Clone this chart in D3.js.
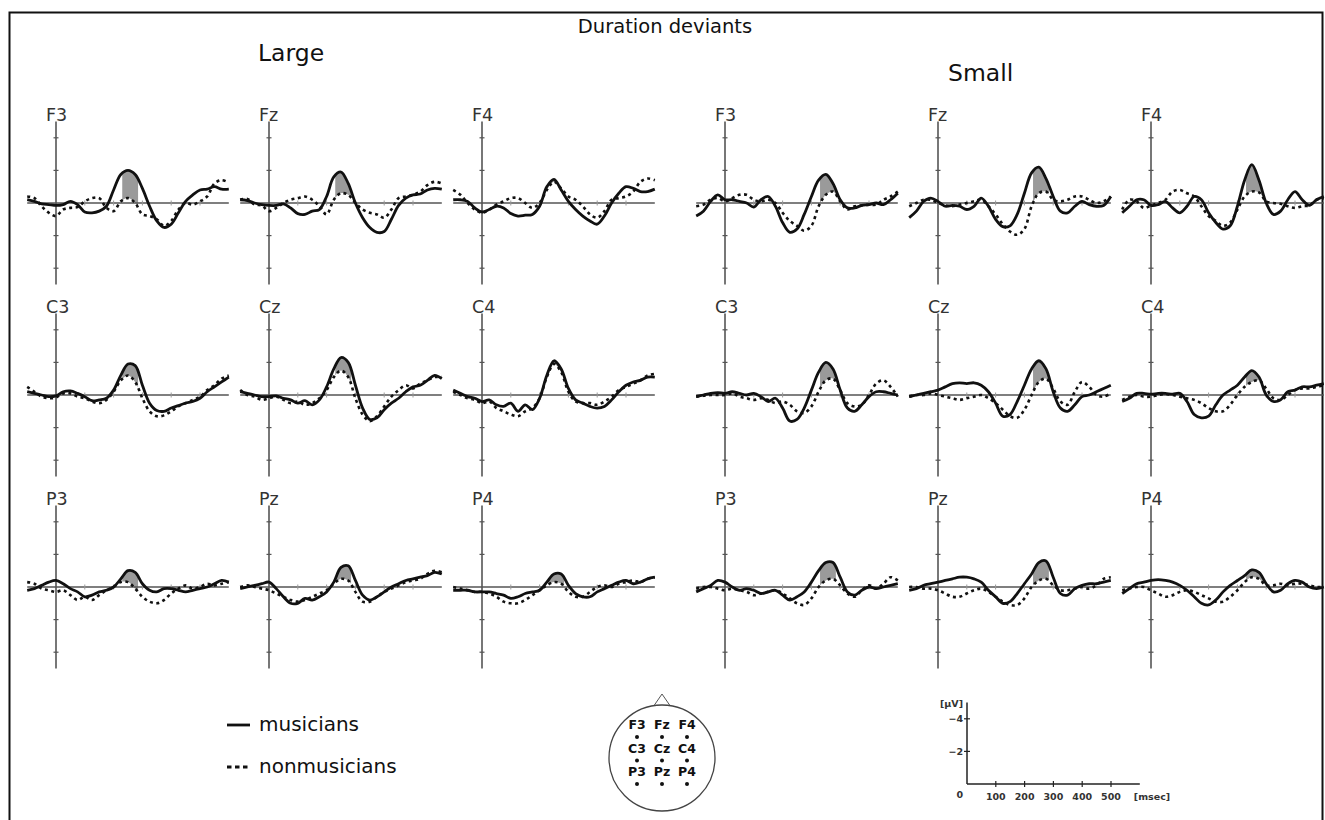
<!DOCTYPE html>
<html><head><meta charset="utf-8">
<script src="https://cdn.jsdelivr.net/npm/d3@7"></script>
<style>body{margin:0;background:#fff} svg{display:block;font-family:"DejaVu Sans",sans-serif}</style>
</head><body><svg id="c" width="1325" height="820"></svg>
<script>
// ---------------- data ----------------
const times = [-100,-75,-50,-25,0,25,50,75,100,125,150,175,200,225,250,275,300,325,350,375,400,425,450,475,500,525,550,575,600];
const groups = ["Large","Small"];
const electrodes = [["F3","Fz","F4"],["C3","Cz","C4"],["P3","Pz","P4"]];
const seriesNames = ["musicians","nonmusicians"];
const shadeLarge = [230,285];
const shadeSmall = [330,385];
const vTicks = [-4,-2,2,4];
const hTicks = [100,200,300,400,500];
const scaleYTicks = [-4,-2];
const scaleXTicks = [100,200,300,400,500];
const headLabels = ["F3","Fz","F4","C3","Cz","C4","P3","Pz","P4"];

// values in µV (negative plotted upward)
const largeF3Mus = [-0.2,-0.1,0.05,0.1,0.15,0.1,-0.1,0.1,0.55,0.6,0.5,0.2,-0.8,-1.75,-2.0,-1.75,-0.9,0.2,1.1,1.5,1.3,0.6,-0.1,-0.5,-0.8,-0.85,-1.0,-0.85,-0.85];
const largeF3Non = [-0.4,-0.3,0.2,0.6,0.8,0.4,0.3,0.25,-0.1,-0.3,-0.3,0.3,0.5,-0.1,-0.3,0,0.7,0.8,1.0,1.4,1.1,0.4,0,0.1,-0.1,-0.4,-1.2,-1.4,-1.25];
const largeFzMus = [-0.2,-0.15,0,0.1,0.15,0.15,0.05,0.3,0.65,0.7,0.5,0.4,-0.4,-1.6,-1.9,-1.2,0,0.9,1.5,1.8,1.75,1.0,0.15,-0.3,-0.5,-0.55,-0.8,-0.9,-0.85];
const largeFzNon = [-0.2,-0.25,0.1,0.15,0.5,0.3,0,-0.2,-0.3,-0.4,-0.2,0.2,0.7,-0.2,-0.6,-0.5,0,0.4,0.6,0.7,0.9,0.4,-0.3,-0.4,-0.5,-0.7,-1.1,-1.3,-1.2];
const largeF4Mus = [-0.2,-0.2,-0.1,0.3,0.55,0.4,0.2,0.3,0.65,0.8,0.75,0.7,0.2,-1.0,-1.45,-0.8,-0.1,0.4,0.8,1.1,1.3,0.8,0,-0.6,-1.0,-0.9,-0.7,-0.7,-0.85];
const largeF4Non = [-0.8,-0.5,0,0.4,0.6,0.4,0.1,-0.1,-0.3,-0.3,0,0.3,0,-0.8,-1.3,-0.9,-0.4,-0.2,0.2,0.7,0.9,0.5,-0.2,-0.3,-0.4,-0.7,-1.3,-1.5,-1.4];
const largeC3Mus = [-0.2,-0.1,0,0.1,0.05,-0.2,-0.25,-0.1,0.1,0.35,0.3,0.2,-0.3,-1.2,-1.9,-1.8,-0.6,0.5,0.95,1.0,0.8,0.65,0.5,0.4,0.2,-0.2,-0.5,-0.8,-1.1];
const largeC3Non = [-0.5,-0.2,0.1,0.2,0.15,-0.1,-0.1,0.1,0.2,0.4,0.5,0.3,-0.2,-0.9,-1.2,-0.8,0.2,1.0,1.3,1.25,1.0,0.7,0.5,0.3,0.1,-0.3,-0.6,-1.0,-1.2];
const largeCzMus = [-0.2,-0.1,0,0.1,0.1,0.05,0.2,0.3,0.5,0.35,0.6,0.3,-0.5,-1.6,-2.3,-2.0,-0.6,0.8,1.5,1.4,0.9,0.5,0.2,-0.2,-0.5,-0.6,-0.9,-1.2,-1.0];
const largeCzNon = [-0.3,0,0.1,0.3,0.2,0.1,0.3,0.5,0.4,0.6,0.5,0.2,-0.3,-1.1,-1.5,-1.1,0.2,1.2,1.6,1.3,0.7,0.1,-0.3,-0.6,-0.4,-0.7,-0.9,-1.1,-1.1];
const largeC4Mus = [-0.3,-0.1,0.1,0.2,0.4,0.3,0.6,0.7,0.5,1.0,0.6,0.9,0.2,-1.2,-2.1,-1.6,-0.4,0.3,0.5,0.7,0.8,0.7,0.3,-0.2,-0.6,-0.8,-0.9,-1.1,-1.1];
const largeC4Non = [-0.2,0,0.2,0.3,0.5,0.4,0.8,1.0,1.2,1.3,1.0,0.8,0.2,-1.1,-1.9,-1.4,-0.2,0.4,0.5,0.5,0.6,0.4,0.1,-0.3,-0.5,-0.7,-0.9,-1.2,-1.3];
const largeP3Mus = [0.2,0.1,-0.1,-0.3,-0.4,-0.2,0.1,0.3,0.6,0.5,0.3,0.2,0,-0.5,-1.0,-0.9,-0.2,0.2,0.3,0.1,0.1,0.2,0.3,0.2,0.1,0,-0.2,-0.4,-0.3];
const largeP3Non = [-0.3,-0.2,0.1,0.2,0.3,0.2,0.5,0.8,0.6,0.8,0.5,0.2,0,-0.3,-0.3,0.1,0.6,0.9,1.0,0.8,0.4,0.1,-0.1,0.1,0,-0.2,-0.1,-0.2,-0.3];
const largePzMus = [0.1,0,-0.1,-0.2,-0.3,0.1,0.6,1.0,1.0,0.7,0.8,0.6,0.3,-0.3,-1.2,-1.3,-0.4,0.5,0.8,0.6,0.3,0,-0.2,-0.4,-0.5,-0.6,-0.7,-0.9,-0.8];
const largePzNon = [0,-0.1,0,0.1,0.2,0.4,0.6,0.8,0.9,0.8,0.6,0.4,0.2,-0.2,-0.5,-0.4,0.3,0.9,0.9,0.6,0.3,0.1,-0.1,-0.3,-0.4,-0.5,-0.8,-1.0,-0.9];
const largeP4Mus = [0.2,0.2,0.2,0.3,0.3,0.3,0.4,0.5,0.7,0.6,0.4,0.3,0.2,-0.3,-0.8,-0.8,-0.1,0.4,0.6,0.6,0.3,0.1,-0.1,-0.3,-0.4,-0.2,-0.3,-0.5,-0.6];
const largeP4Non = [0,0.1,0.2,0.3,0.3,0.4,0.6,0.9,1.0,1.0,0.8,0.5,0.2,-0.1,-0.3,-0.2,0.3,0.6,0.6,0.3,0,-0.1,0,-0.2,-0.3,-0.4,-0.3,-0.5,-0.6];

const smallF3Mus = [0.8,0.5,-0.1,-0.5,-0.2,-0.2,-0.1,0,0.25,-0.2,-0.4,0.2,1.2,1.8,1.6,0.7,-0.4,-1.4,-1.75,-1.2,-0.2,0.3,0.3,0.15,0.1,0,0.1,-0.2,-0.6];
const smallF3Non = [0.2,0.1,-0.2,-0.3,-0.1,-0.3,-0.5,-0.5,-0.2,-0.1,-0.2,0,0.6,1.1,1.4,1.7,1.4,0.2,-0.5,-0.7,-0.1,0.4,0.2,0.15,0.1,0.1,-0.2,-0.4,-0.7];
const smallFzMus = [0.9,0.5,-0.1,-0.3,-0.1,0.2,0.15,0.2,0.4,0.2,-0.3,0.2,1.0,1.45,1.4,0.7,-0.6,-1.85,-2.2,-1.5,-0.4,0.5,0.6,0.2,-0.1,0.1,0.2,0.15,-0.4];
const smallFzNon = [0.2,0,-0.2,-0.2,0,0.15,0.2,0.1,0,-0.1,-0.2,0.2,0.7,1.3,1.75,1.95,1.6,0.2,-0.6,-0.7,-0.2,-0.1,-0.2,-0.4,-0.4,-0.2,0,-0.1,-0.4];
const smallF4Mus = [0.6,0.2,-0.2,-0.2,0.15,0.1,-0.1,0.3,0.6,0.2,-0.4,-0.2,0.6,1.2,1.6,1.4,0.2,-1.4,-2.35,-1.4,0,0.7,0.5,-0.2,-0.7,-0.2,0.15,-0.2,-0.4];
const smallF4Non = [0.4,-0.2,-0.1,0.3,0.15,0,-0.2,-0.7,-0.8,-0.6,-0.4,0.2,0.8,1.1,1.4,1.2,0.4,-0.4,-0.7,-0.65,-0.1,0,0.05,0.2,0.3,0.2,0.15,-0.2,-0.3];
const smallC3Mus = [0.1,0,-0.1,-0.15,-0.1,-0.2,-0.1,0,-0.1,0.1,0.4,0.2,0.8,1.6,1.5,0.8,-0.3,-1.4,-2.0,-1.6,-0.3,0.8,1.0,0.6,0.1,-0.2,-0.2,-0.1,0];
const smallC3Non = [0.1,0.05,0,0,0,-0.1,0.1,0.2,0.3,0.2,0.3,0.5,0.4,0.6,1.0,1.1,0.7,-0.2,-0.9,-1.0,-0.3,0.5,0.7,0.6,0,-0.7,-0.9,-0.5,0.1];
const smallCzMus = [0.1,0,-0.1,-0.2,-0.3,-0.5,-0.7,-0.75,-0.7,-0.75,-0.6,-0.2,0.5,1.3,1.2,0.4,-0.6,-1.6,-2.1,-1.6,-0.2,0.8,1.0,0.6,0.1,0,-0.2,-0.4,-0.6];
const smallCzNon = [0.1,0,0,-0.1,0,0.1,0.2,0.3,0.2,0.1,0,0.2,0.5,0.9,1.3,1.4,0.9,0,-0.8,-1.0,-0.4,0.4,0.6,-0.2,-0.8,-0.5,0,0.1,-0.1];
const smallC4Mus = [0.4,0.2,-0.1,-0.1,-0.05,-0.1,-0.1,-0.05,-0.1,0.4,1.2,1.4,1.3,0.6,0,-0.3,-0.6,-1.1,-1.5,-1.1,0,0.4,0.3,-0.2,-0.3,-0.5,-0.5,-0.6,-0.7];
const smallC4Non = [0.3,0.1,0,0.1,0.1,0,-0.05,0,0.1,0.2,0.3,0.5,0.8,1.0,1.0,0.6,0,-0.5,-0.8,-0.9,-0.4,0.2,0.3,0,-0.3,-0.4,-0.4,-0.5,-0.6];
const smallP3Mus = [0.3,0.1,-0.1,-0.4,-0.3,0,0.2,0.1,0.2,0.4,0.3,0.2,0.5,0.8,0.6,0.3,-0.3,-1.0,-1.5,-1.5,-0.6,0.3,0.5,0.2,0,0.1,0,-0.1,-0.2];
const smallP3Non = [0.1,0,0,0.1,0.2,0.1,0.2,0.3,0.5,0.4,0.3,0.2,0.4,0.7,1.0,1.1,0.7,0,-0.4,-0.5,-0.1,0.4,0.6,0.2,-0.1,0.1,-0.2,-0.6,-0.4];
const smallPzMus = [0.2,0.1,-0.1,-0.2,-0.3,-0.4,-0.5,-0.6,-0.6,-0.5,-0.3,0.2,0.6,1.0,0.9,0.4,-0.2,-0.8,-1.5,-1.6,-0.6,0.4,0.5,0.1,-0.1,-0.2,-0.2,-0.3,-0.4];
const smallPzNon = [0,0,0.1,0.1,0.2,0.4,0.6,0.6,0.4,0.2,0.1,0.3,0.6,0.9,1.1,1.1,0.7,0,-0.4,-0.5,-0.1,0.2,0.2,0.1,0,0.1,-0.1,-0.5,-0.6];
const smallP4Mus = [0.4,0.1,-0.2,-0.3,-0.4,-0.45,-0.4,-0.3,-0.1,0.2,0.6,1.0,1.1,0.8,0.3,-0.1,-0.4,-0.7,-1.05,-0.9,-0.2,0.3,0.2,-0.2,-0.4,-0.3,0,0.1,0];
const smallP4Non = [0.2,0.1,0,0,0.2,0.4,0.6,0.5,0.3,0.2,0.3,0.5,0.7,0.9,0.9,0.6,0.2,-0.3,-0.6,-0.5,-0.1,-0.1,-0.2,-0.1,-0.2,-0.2,-0.1,0,0];

// lookup table built from the arrays above
const waves = {
  Large: {F3:[largeF3Mus,largeF3Non],Fz:[largeFzMus,largeFzNon],F4:[largeF4Mus,largeF4Non],
          C3:[largeC3Mus,largeC3Non],Cz:[largeCzMus,largeCzNon],C4:[largeC4Mus,largeC4Non],
          P3:[largeP3Mus,largeP3Non],Pz:[largePzMus,largePzNon],P4:[largeP4Mus,largeP4Non]},
  Small: {F3:[smallF3Mus,smallF3Non],Fz:[smallFzMus,smallFzNon],F4:[smallF4Mus,smallF4Non],
          C3:[smallC3Mus,smallC3Non],Cz:[smallCzMus,smallCzNon],C4:[smallC4Mus,smallC4Non],
          P3:[smallP3Mus,smallP3Non],Pz:[smallPzMus,smallPzNon],P4:[smallP4Mus,smallP4Non]}
};
const shadeWin = {Large: shadeLarge, Small: shadeSmall};

// ---------------- layout ----------------
const svg = d3.select("#c");
const msPx = 0.288;          // px per ms
const uvPx = 16.3;           // px per µV
const groupAxisX = {Large:[56,269,482], Small:[725,938,1151]};
const rowBase = [203,395,587];
const AXC = "#555";

svg.append("rect").attr("x",9.5).attr("y",12.5).attr("width",1313).attr("height",830)
  .attr("fill","none").attr("stroke","#111").attr("stroke-width",2);

svg.append("text").attr("x",665).attr("y",33).attr("text-anchor","middle")
  .attr("font-size",19.5).attr("fill","#111").text("Duration deviants");
svg.append("text").attr("x",258).attr("y",61).attr("font-size",23.5).attr("fill","#111").text(groups[0]);
svg.append("text").attr("x",948).attr("y",81).attr("font-size",23.5).attr("fill","#111").text(groups[1]);

const defs = svg.append("defs");
let clipId = 0;

groups.forEach(g => {
  electrodes.forEach((row, ri) => {
    row.forEach((el, ci) => {
      const ax = groupAxisX[g][ci], base = rowBase[ri];
      const x = d3.scaleLinear().domain([0,600]).range([ax, ax + 600*msPx]);
      const y = d3.scaleLinear().domain([-5,5]).range([base - 5*uvPx, base + 5*uvPx]);
      const p = svg.append("g");
      const [mus, non] = waves[g][el];
      const pts = times.map((t,i)=>({t, m:mus[i], n:non[i]}));
      const curve = d3.curveCatmullRom.alpha(0.5);

      // shading between curves in MMN window
      const id = "clip" + (clipId++);
      const win = shadeWin[g];
      defs.append("clipPath").attr("id", id).append("rect")
        .attr("x", x(win[0])).attr("y", y(-5)).attr("width", x(win[1]) - x(win[0])).attr("height", y(5)-y(-5));
      p.append("path").datum(pts)
        .attr("clip-path", `url(#${id})`)
        .attr("fill", "#9a9a9a")
        .attr("d", d3.area().curve(curve).x(d=>x(d.t)).y0(d=>y(d.n)).y1(d=>y(d.m)));

      // baseline
      p.append("line").attr("x1", x(-100)).attr("x2", x(600)).attr("y1", y(0)).attr("y2", y(0))
        .attr("stroke", AXC).attr("stroke-width", 1.6);
      p.selectAll(".ht").data(hTicks).join("line")
        .attr("x1", d=>x(d)).attr("x2", d=>x(d)).attr("y1", y(0)-2.5).attr("y2", y(0)+2.5)
        .attr("stroke", "#999").attr("stroke-width", 1);
      // vertical axis
      p.append("line").attr("x1", x(0)).attr("x2", x(0)).attr("y1", y(-5)).attr("y2", y(5))
        .attr("stroke", AXC).attr("stroke-width", 1.6);
      p.selectAll(".vt").data(vTicks).join("line")
        .attr("x1", x(0)-2.5).attr("x2", x(0)+2.5).attr("y1", d=>y(d)).attr("y2", d=>y(d))
        .attr("stroke", AXC).attr("stroke-width", 1.2);

      // curves
      const line = (k) => d3.line().curve(curve).x(d=>x(d.t)).y(d=>y(d[k]));
      p.append("path").datum(pts).attr("fill","none").attr("stroke","#111")
        .attr("stroke-width",2.6).attr("stroke-dasharray","3,3.5").attr("d", line("n"));
      p.append("path").datum(pts).attr("fill","none").attr("stroke","#111")
        .attr("stroke-width",2.8).attr("stroke-linejoin","round").attr("d", line("m"));

      p.append("text").attr("x", x(0)-10).attr("y", y(-5)-1).attr("font-size",17.5)
        .attr("fill","#333").text(el);
    });
  });
});

// ---------------- legend ----------------
const leg = svg.append("g");
[725, 767].forEach((ly, i) => {
  leg.append("line").attr("x1",227).attr("x2",250).attr("y1",ly).attr("y2",ly)
    .attr("stroke","#111").attr("stroke-width",2.8)
    .attr("stroke-dasharray", i ? "4.5,3.5" : null);
  leg.append("text").attr("x",259).attr("y",ly+6).attr("font-size",20).attr("fill","#111").text(seriesNames[i]);
});

// ---------------- head ----------------
const head = svg.append("g");
const hc = {x:662, y:758, r:53};
head.append("path")
  .attr("d", `M${hc.x-8},${hc.y-hc.r+0.6} L${hc.x},${hc.y-hc.r-11} L${hc.x+8},${hc.y-hc.r+0.6}`)
  .attr("fill","none").attr("stroke","#555").attr("stroke-width",1);
head.append("circle").attr("cx",hc.x).attr("cy",hc.y).attr("r",hc.r)
  .attr("fill","none").attr("stroke","#444").attr("stroke-width",1.3);
const hx = d3.scalePoint().domain([0,1,2]).range([hc.x-25, hc.x+25]);
const hy = d3.scalePoint().domain([0,1,2]).range([hc.y-29, hc.y+18]);
headLabels.forEach((lab, i) => {
  const c = i % 3, r = Math.floor(i / 3);
  head.append("text").attr("x", hx(c)).attr("y", hy(r)).attr("text-anchor","middle")
    .attr("font-size",12.5).attr("font-weight","bold").attr("fill","#111").text(lab);
  head.append("circle").attr("cx", hx(c)).attr("cy", hy(r)+8).attr("r",2).attr("fill","#111");
});

// ---------------- scale bar ----------------
const sb = svg.append("g");
const sx = d3.scaleLinear().domain([0,600]).range([967, 967+600*msPx]);
const sy = d3.scaleLinear().domain([0,-5]).range([784, 784-5*uvPx]);
sb.append("line").attr("x1",sx(0)).attr("x2",sx(600)).attr("y1",sy(0)).attr("y2",sy(0)).attr("stroke","#222").attr("stroke-width",1.5);
sb.append("line").attr("x1",sx(0)).attr("x2",sx(0)).attr("y1",sy(0)).attr("y2",sy(-5)).attr("stroke","#222").attr("stroke-width",1.5);
sb.selectAll(".sxt").data(scaleXTicks).join("line")
  .attr("x1",d=>sx(d)).attr("x2",d=>sx(d)).attr("y1",sy(0)-3).attr("y2",sy(0)+3).attr("stroke","#222").attr("stroke-width",1.2);
sb.selectAll(".sxl").data(scaleXTicks).join("text")
  .attr("x",d=>sx(d)).attr("y",sy(0)+16).attr("text-anchor","middle")
  .attr("font-size",9.5).attr("font-weight","600").attr("fill","#333").text(d=>d);
sb.selectAll(".syt").data(scaleYTicks).join("line")
  .attr("x1",sx(0)-3).attr("x2",sx(0)+3).attr("y1",d=>sy(d)).attr("y2",d=>sy(d)).attr("stroke","#222").attr("stroke-width",1.2);
sb.selectAll(".syl").data(scaleYTicks).join("text")
  .attr("x",sx(0)-4).attr("y",d=>sy(d)+3.5).attr("text-anchor","end")
  .attr("font-size",9.5).attr("font-weight","600").attr("fill","#333").text(d=>"\u2212"+Math.abs(d));
sb.append("text").attr("x",sx(0)-4).attr("y",sy(0)+14).attr("text-anchor","end").attr("font-size",9.5).attr("font-weight","600").attr("fill","#333").text("0");
sb.append("text").attr("x",sx(0)-4).attr("y",sy(-5)+4).attr("text-anchor","end").attr("font-size",9.5).attr("font-weight","600").attr("fill","#333").text("[\u00b5V]");
sb.append("text").attr("x",sx(600)-6).attr("y",sy(0)+16).attr("font-size",9.5).attr("font-weight","600").attr("fill","#333").text("[msec]");
</script></body></html>
